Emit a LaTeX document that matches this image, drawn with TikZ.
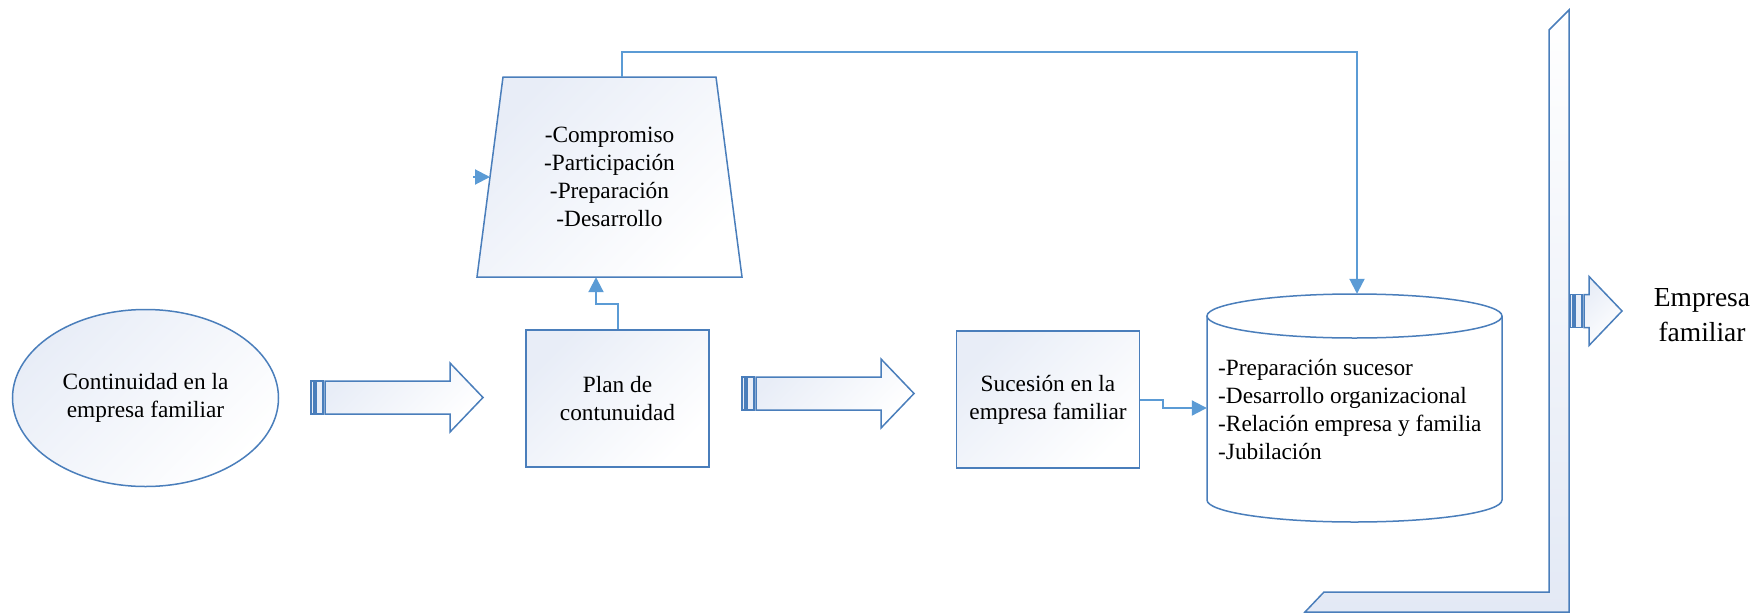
\documentclass[tikz,border=0pt]{standalone}
\usepackage{fontspec}
\setmainfont{Liberation Serif}
\usetikzlibrary{arrows.meta,shapes.geometric,calc}
\definecolor{lineblue}{HTML}{4A7EBB}
\definecolor{connblue}{HTML}{5B9BD5}
\definecolor{fillblue}{HTML}{E8EDF7}
\definecolor{frameblue}{HTML}{E3E9F5}
\definecolor{barblue}{HTML}{E9EEF8}

\begin{document}
\begin{tikzpicture}[x=1pt,y=-1pt,
  every node/.style={font=\fontsize{23.3}{28}\selectfont, inner sep=0pt, text=black},
  shapeline/.style={draw=lineblue, line width=1.5pt},
  softfill/.style={top color=fillblue, bottom color=white, shading angle=45},
  % raises the first line's height so that the text block sits a little lower
  lowered/.style={execute at begin node={\rule{0pt}{#1}}},
  box/.style={shapeline, softfill, rectangle, minimum width=183pt, minimum height=137pt, align=center},
  oval/.style={shapeline, softfill, ellipse, minimum width=266pt, minimum height=177pt, align=center},
  ghost/.style={rectangle, align=center},
  conn/.style={draw=connblue, line width=2pt, -{Triangle[length=15pt,width=15pt]}},
  pics/blockarrow/.style={code={
    \draw[shapeline, fill=barblue] (0,-16.5) rectangle (3,16.5);
    \draw[shapeline, fill=barblue] (5,-16.5) rectangle (12,16.5);
    \draw[shapeline, softfill] (14,-16.5) -- (14+#1,-16.5) -- (14+#1,-34.5)
      -- (47+#1,0) -- (14+#1,34.5) -- (14+#1,16.5) -- (14,16.5) -- cycle;
  }}
]
\useasboundingbox (0,0) rectangle (1758,613);

% starting point
\node[oval, lowered=22.5pt] (cont) at (145.5,398) {Continuidad en la\\empresa familiar};
\pic (arrowA) at (311,397.5) {blockarrow=125};

% plan and succession boxes
\node[box, lowered=20pt] (plan) at (617.5,398.5) {Plan de\\contunuidad};
\pic (arrowB) at (742,393.5) {blockarrow=125};
\node[box, lowered=22pt] (suc) at (1048,399.5) {Sucesión en la\\empresa familiar};

% trapezoid with the plan's elements
\draw[shapeline, softfill] (503,77) -- (716,77) -- (742,277) -- (477,277) -- cycle;
\node[ghost, minimum width=265pt, minimum height=200pt] (trap) at (609.5,177)
  {-Compromiso\\-Participación\\-Preparación\\-Desarrollo};
\coordinate (trapleft) at (490,177);
\coordinate (stub) at (473,177);

% cylinder with the succession topics
\node[ghost, minimum width=295pt, minimum height=228pt] (db) at (1354.5,408) {};
\draw[shapeline, fill=white] (1207,316) -- (1207,500)
  arc[start angle=180, end angle=360, x radius=147.5pt, y radius=22pt] -- (1502,316);
\draw[shapeline, fill=white] (1354.5,316) ellipse[x radius=147.5pt, y radius=22pt];
\node[anchor=west, align=left] (dbtext) at (1218,409.5)
  {-Preparación sucesor\\-Desarrollo organizacional\\-Relación empresa y familia\\-Jubilación};

% L-shaped frame and outcome
\draw[shapeline, top color=white, bottom color=frameblue]
  (1569,10) -- (1569,612) -- (1305,612) -- (1324,592) -- (1549,592) -- (1549,30) -- cycle;
\pic (arrowC) at (1570,311) {blockarrow=5};
\node[font=\fontsize{27.5}{34.5}\selectfont, align=center] (emp) at (1702,315) {Empresa\\familiar};

% connectors
\draw[conn] (plan.north) -- ++(0,-25) -| ([xshift=-13.5pt]trap.south);
\draw[conn] (suc.east) -- ++(23,0) |- (db.west);
\draw[conn] ([xshift=12.5pt]trap.north) -- ++(0,-25) -| ([xshift=2.5pt]db.north);
\draw[conn] (stub) -- (trapleft);
\end{tikzpicture}
\end{document}
